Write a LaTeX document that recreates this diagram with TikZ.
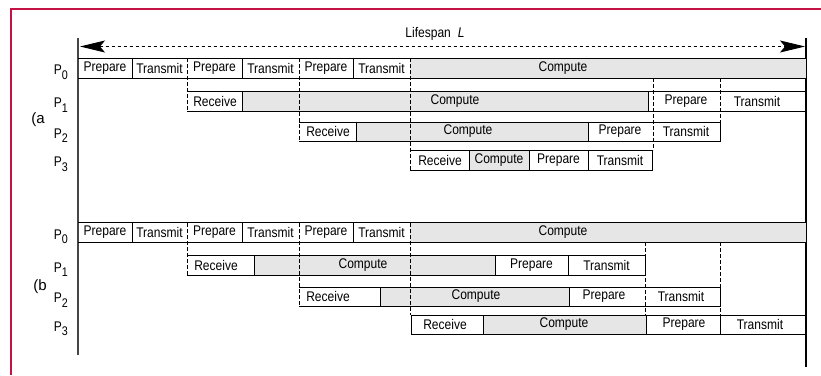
\documentclass[tikz,border=0pt]{standalone}
\usepackage{fontspec}
\setmainfont{Liberation Sans}
\newfontfamily\narrowsans[FakeStretch=0.86]{Liberation Sans}
\usetikzlibrary{arrows.meta}
\definecolor{framered}{RGB}{197,18,68}
\definecolor{busygray}{RGB}{230,230,230}
\definecolor{axisgray}{RGB}{70,70,70}
\begin{document}
\begin{tikzpicture}[x=1pt,y=-1pt,
  lane/.style={line width=0.8pt},
  msg/.style={line width=0.9pt,dash pattern=on 3.5pt off 2.5pt},
  busy/.style={fill=busygray},
  txt/.style={font=\narrowsans\fontsize{14}{14}\selectfont,inner sep=0pt},
  proc/.style={txt,anchor=base east},
  tag/.style={font=\fontsize{15}{15}\selectfont,inner sep=0pt},
  span/.style={msg,>={Stealth[length=25pt,width=12pt,inset=5pt]},<->}]
\useasboundingbox(0,0)rectangle(821,375);
\draw[framered,line width=2pt](11,375)--(11,9)--(821,9);
% time axes
\draw[axisgray,line width=1.5pt](78,38)--(78,355);
\draw[line width=1.5pt](806,38)--(806,367);
\draw[span](80,46.5)--(805,46.5);
\node[txt](life)at(435,34){Lifespan\hspace{7pt}\textit{L}};
% P0 row and process labels, same in both panels
\foreach \oy/\pn in {0/a,164.5/b}{
  \fill[busy](410,58+\oy)rectangle(806,78+\oy);
  \draw[lane](78,58+\oy)--(806,58+\oy)(78,78+\oy)--(806,78+\oy);
  \foreach \x in {132,242,353}
    \draw[lane](\x,58+\oy)--++(0,20);
  \foreach \x/\w [count=\i] in {105/Prepare,159.5/Transmit,214.5/Prepare,270.5/Transmit,326/Prepare,381.5/Transmit,563/Compute}
    \node[txt](\pn0t\i)at(\x,68+\oy){\w};
  \foreach \k/\yy in {0/68,1/101,2/131.5,3/160}
    \node[proc](\pn p\k)at(68,\yy+6.5+\oy){P\raisebox{-4.5pt}{\fontsize{12.5}{12.5}\selectfont\k}};
}
\node[tag](tagA)at(38,120){(a};
\node[tag](tagB)at(40,287){(b};
% (a) P1
\fill[busy](242,91)rectangle(648,111);
\draw[lane](187,91)--(806,91)(187,111)--(806,111)(242,91)--(242,111)(648,91)--(648,111);
\node[txt](a1r)at(215,101){Receive};
\node[txt](a1c)at(455,101){Compute};
\node[txt](a1p)at(686,101){Prepare};
\node[txt](a1t)at(757,101){Transmit};
% (a) P2
\fill[busy](356,122)rectangle(588,141);
\draw[lane](299,122)--(720,122)--(720,141)--(299,141)(356,122)--(356,141)(588,122)--(588,141);
\node[txt](a2r)at(328,131.5){Receive};
\node[txt](a2c)at(468,131.5){Compute};
\node[txt](a2p)at(620,131.5){Prepare};
\node[txt](a2t)at(686,131.5){Transmit};
% (a) P3
\fill[busy](469,150)rectangle(529,170);
\draw[lane](410,150)--(652,150)--(652,170)--(410,170)(469,150)--(469,170)(529,150)--(529,170)(588,150)--(588,170);
\node[txt](a3r)at(440,160){Receive};
\node[txt](a3c)at(499,160){Compute};
\node[txt](a3p)at(558.5,160){Prepare};
\node[txt](a3t)at(620,160){Transmit};
% (a) messages
\draw[msg](187,58)--(187,111)(299,58)--(299,141)(410,58)--(410,170)(653,78)--(653,150)(720,78)--(720,122);
% (b) P1
\fill[busy](254,255)rectangle(495,275);
\draw[lane](187,255)--(645,255)--(645,275)--(187,275)(254,255)--(254,275)(495,255)--(495,275)(568,255)--(568,275);
\node[txt](b1r)at(216,265){Receive};
\node[txt](b1c)at(363,265){Compute};
\node[txt](b1p)at(531.5,265){Prepare};
\node[txt](b1t)at(606.5,265){Transmit};
% (b) P2
\fill[busy](380,287)rectangle(569,306);
\draw[lane](299,287)--(720,287)--(720,306)--(299,306)(380,287)--(380,306)(569,287)--(569,306);
\node[txt](b2r)at(328,296.5){Receive};
\node[txt](b2c)at(476,296.5){Compute};
\node[txt](b2p)at(604,296.5){Prepare};
\node[txt](b2t)at(681,296.5){Transmit};
% (b) P3
\fill[busy](483,315)rectangle(646,334);
\draw[lane](806,315)--(411,315)--(411,334)--(806,334)(483,315)--(483,334)(646,315)--(646,334)(720,315)--(720,334);
\node[txt](b3r)at(445,324.5){Receive};
\node[txt](b3c)at(564,324.5){Compute};
\node[txt](b3p)at(684,324.5){Prepare};
\node[txt](b3t)at(760,324.5){Transmit};
% (b) messages
\draw[msg](187,223)--(187,275)(299,223)--(299,306)(410,223)--(410,315)(645,242)--(645,315)(720,242)--(720,315);
\end{tikzpicture}
\end{document}
